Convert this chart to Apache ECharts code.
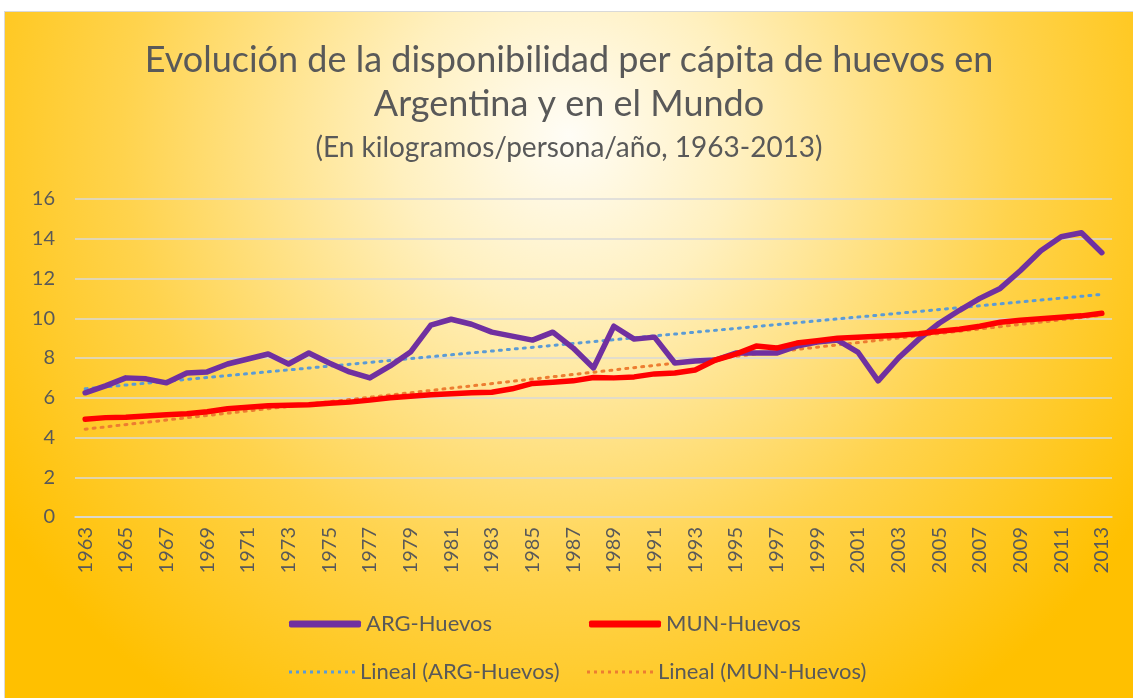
<!DOCTYPE html>
<html>

<head>
    <meta charset="UTF-8" />
    <title>Huevos per cápita</title>
    <script src="https://cdn.jsdelivr.net/npm/echarts@6/dist/echarts.min.js"></script>
    <style>
        body { margin: 0; background: #ffffff; }
        #chart {
            position: absolute; left: 4px; top: 11px;
            width: 1128px; height: 686px;
            border-left: 1px solid #d9d9d9; border-top: 1px solid #d9d9d9;
        }
    </style>
</head>

<body>
    <div id="chart"></div>

    <script type="text/javascript">
        // años 1963-2013
        var years = [];
        for (var y = 1963; y <= 2013; y++) years.push(String(y));

        // kg/persona/año
        var argHuevos = [6.25, 6.6, 7.0, 6.95, 6.75, 7.25, 7.3, 7.7, 7.95, 8.2, 7.7, 8.25, 7.75, 7.3, 7.0, 7.6,
            8.3, 9.65, 9.95, 9.7, 9.3, 9.1, 8.9, 9.3, 8.5, 7.5, 9.6, 8.95, 9.05, 7.75, 7.85, 7.9, 8.25, 8.25,
            8.25, 8.6, 8.8, 8.9, 8.3, 6.85, 8.0, 8.95, 9.75, 10.4, 11.0, 11.5, 12.4, 13.4, 14.1, 14.3, 13.3];
        var munHuevos = [4.92, 5.0, 5.02, 5.08, 5.15, 5.2, 5.3, 5.45, 5.52, 5.6, 5.62, 5.65, 5.72, 5.78, 5.88, 6.0,
            6.08, 6.15, 6.2, 6.25, 6.28, 6.45, 6.72, 6.78, 6.85, 7.02, 7.0, 7.05, 7.2, 7.25, 7.4, 7.9,
            8.2, 8.6, 8.5, 8.75, 8.87, 9.0, 9.05, 9.1, 9.15, 9.22, 9.35, 9.45, 9.6, 9.8, 9.9, 9.97, 10.05, 10.12, 10.25];

        // tendencias lineales: valor en 1963 y en 2013
        var argTrend = [6.45, 11.2];
        var munTrend = [4.42, 10.15];

        var yTicks = [0, 16, 2]; // min, max, intervalo

        var gray = '#595959';
        var font = 'Lato, "Open Sans", sans-serif';

        // icono punteado para la leyenda
        var dots = 'path://';
        for (var i = 0; i < 10; i++) dots += 'M' + (i * 7) + ',0h3v3h-3z';

        var chart = echarts.init(document.getElementById('chart'));

        var trendData = function (t) {
            return [[years[0], t[0]], [years[years.length - 1], t[1]]];
        };

        var legendItem = function (name, left, top, icon, w, h) {
            return {
                data: [{ name: name, icon: icon }],
                left: left, top: top,
                itemWidth: w, itemHeight: h, itemGap: 0,
                textStyle: { color: gray, fontSize: 22, fontFamily: font }
            };
        };

        var option = {
            animation: false,
            backgroundColor: {
                type: 'radial', x: 0.5, y: 0.18, r: 1.0,
                colorStops: [
                    { offset: 0, color: '#fffdf6' },
                    { offset: 0.25, color: '#fff0bf' },
                    { offset: 0.65, color: '#ffd34d' },
                    { offset: 1, color: '#ffc000' }
                ]
            },
            textStyle: { fontFamily: font },
            title: [
                {
                    text: 'Evolución de la disponibilidad per cápita de huevos en\nArgentina y en el Mundo',
                    left: 'center', top: 21,
                    textStyle: { color: gray, fontSize: 36, fontWeight: 'normal', lineHeight: 44, fontFamily: font }
                },
                {
                    text: '(En kilogramos/persona/año, 1963-2013)',
                    left: 'center', top: 115,
                    textStyle: { color: gray, fontSize: 28, fontWeight: 'normal', lineHeight: 32, fontFamily: font }
                }
            ],
            legend: [
                legendItem('ARG-Huevos', 279, 596, 'roundRect', 72, 7),
                legendItem('MUN-Huevos', 579, 596, 'roundRect', 72, 7),
                legendItem('Lineal (ARG-Huevos)', 279, 644, dots, 66, 3),
                legendItem('Lineal (MUN-Huevos)', 577, 644, dots, 66, 3)
            ],
            grid: { left: 70, right: 21, top: 187, bottom: 181 },
            xAxis: {
                type: 'category',
                data: years,
                boundaryGap: true,
                axisLine: { show: true, lineStyle: { color: '#d9d9d9', width: 1.5 } },
                axisTick: { show: false },
                axisLabel: { color: gray, fontSize: 20, rotate: 90, interval: 1, margin: 10, fontFamily: font }
            },
            yAxis: {
                type: 'value',
                min: yTicks[0], max: yTicks[1], interval: yTicks[2],
                axisLine: { show: false },
                axisTick: { show: false },
                axisLabel: { color: gray, fontSize: 20, margin: 20, fontFamily: font },
                splitLine: { lineStyle: { color: '#d9d9d9', width: 1.5 } }
            },
            series: [
                {
                    name: 'Lineal (ARG-Huevos)', type: 'line', data: trendData(argTrend),
                    symbol: 'none', z: 1,
                    itemStyle: { color: '#5b9bd5' },
                    lineStyle: { color: '#5b9bd5', width: 3, type: [2, 6], cap: 'round' }
                },
                {
                    name: 'Lineal (MUN-Huevos)', type: 'line', data: trendData(munTrend),
                    symbol: 'none', z: 1,
                    itemStyle: { color: '#ed7d31' },
                    lineStyle: { color: '#ed7d31', width: 3, type: [2, 6], cap: 'round' }
                },
                {
                    name: 'ARG-Huevos', type: 'line', data: argHuevos,
                    symbol: 'none', z: 2,
                    itemStyle: { color: '#7030a0' },
                    lineStyle: { color: '#7030a0', width: 5.5, cap: 'round', join: 'round' }
                },
                {
                    name: 'MUN-Huevos', type: 'line', data: munHuevos,
                    symbol: 'none', z: 3,
                    itemStyle: { color: '#ff0000' },
                    lineStyle: { color: '#ff0000', width: 5.5, cap: 'round', join: 'round' }
                }
            ]
        };
        chart.setOption(option);
    </script>
</body>

</html>
